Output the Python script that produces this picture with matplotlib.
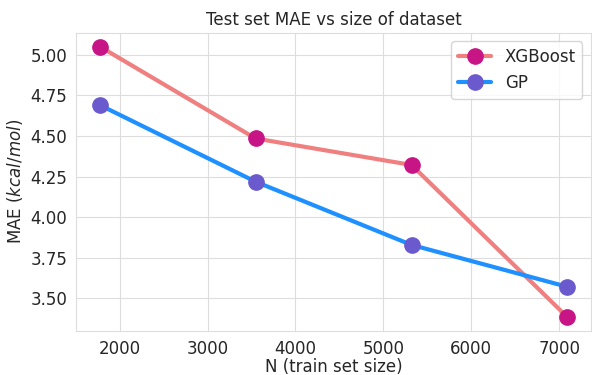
import numpy as np
import matplotlib.pyplot as plt
import seaborn as sns

sns.set_style("whitegrid")
plt.rcParams["font.family"] = ["DejaVu Sans"]

# training set sizes and test MAE (kcal/mol)
n_train = [1774, 3547, 5321, 7094]
mae_xgb = [5.05, 4.484, 4.321, 3.384]
mae_gp = [4.69, 4.218, 3.829, 3.571]
y_ticks = [3.5, 3.75, 4.0, 4.25, 4.5, 4.75, 5.0]

fig, ax = plt.subplots(figsize=(5.92, 3.75), dpi=100)

ax.plot(n_train, mae_xgb, color="lightcoral", lw=3, marker="o", markersize=11,
        markerfacecolor="mediumvioletred", markeredgecolor="mediumvioletred", label="XGBoost")
ax.plot(n_train, mae_gp, color="dodgerblue", lw=3, marker="o", markersize=11,
        markerfacecolor="slateblue", markeredgecolor="slateblue", label="GP")

ax.set_title("Test set MAE vs size of dataset", fontsize=12)
ax.set_xlabel("N (train set size)", fontsize=12, labelpad=0)
ax.set_ylabel("MAE ($kcal/mol$)", fontsize=12)
ax.tick_params(labelsize=12, colors="#262626", pad=3)
ax.set_xticks([2000, 3000, 4000, 5000, 6000, 7000])
ax.set_yticks(y_ticks)
ax.set_yticklabels([f"{v:.2f}" for v in y_ticks])
ax.grid(True, color="#dddddd")
for s in ax.spines.values():
    s.set_color("#dddddd")
ax.legend(fontsize=12, loc="upper right")

plt.subplots_adjust(left=0.129, right=0.998, bottom=0.118, top=0.912)
plt.savefig("out.png", dpi=100)
